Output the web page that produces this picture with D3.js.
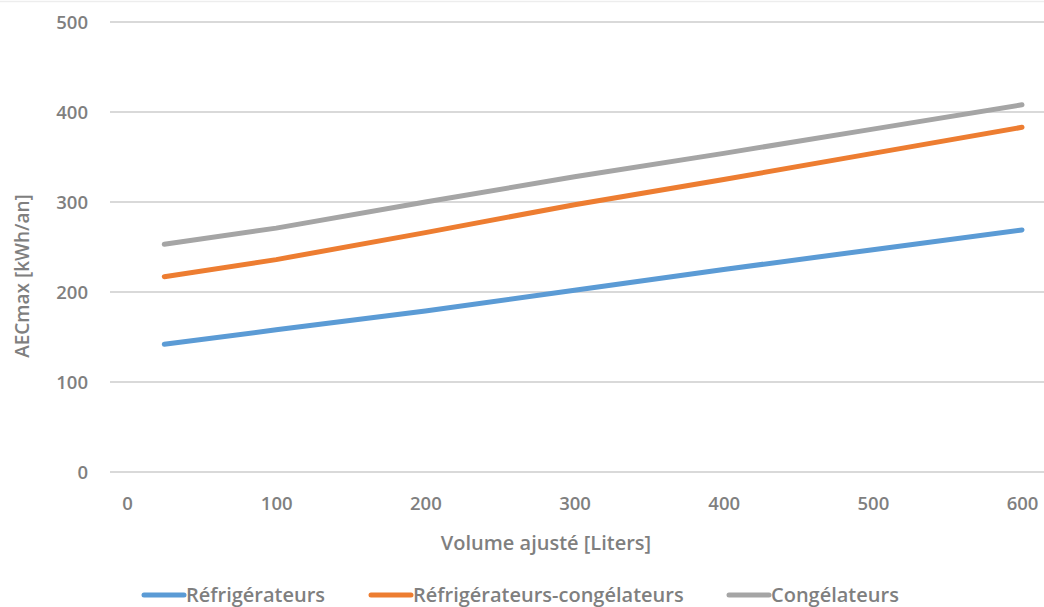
<!DOCTYPE html>
<html>
<head>
<meta charset="utf-8">
<script src="https://cdn.jsdelivr.net/npm/d3@7"></script>
<style>
  html, body { margin: 0; padding: 0; background: #fff; }
  svg { display: block; }
  text { font-family: "Open Sans", "Liberation Sans", sans-serif; fill: #7f7f7f; }
</style>
</head>
<body>
<svg id="chart" width="1044" height="607"></svg>
<script>
// Adjusted volume (litres) at which each curve is sampled
const volumes = [25, 100, 200, 300, 400, 500, 600];

// Maximum annual energy consumption (kWh/an) per appliance type
const refrigerateurs          = [142, 158, 179, 202, 225, 247, 269];
const refrigerateursCongel    = [217, 236, 266, 297, 325, 354, 383];
const congelateurs            = [253, 271, 300, 328, 354, 381, 408];

const seriesNames = ["Réfrigérateurs", "Réfrigérateurs-congélateurs", "Congélateurs"];
const seriesColors = ["#5B9BD5", "#ED7D31", "#A5A5A5"];

const xTicks = [0, 100, 200, 300, 400, 500, 600];
const yTicks = [0, 100, 200, 300, 400, 500];

const xTitle = "Volume ajusté [Liters]";
const yTitle = "AECmax [kWh/an]";

const series = [refrigerateurs, refrigerateursCongel, congelateurs].map((vals, i) => ({
  name: seriesNames[i],
  color: seriesColors[i],
  points: volumes.map((v, j) => ({ x: v, y: vals[j] }))
}));

const svg = d3.select("#chart");

const x = d3.scaleLinear().domain([0, 600]).range([127, 1022]);
const y = d3.scaleLinear().domain([0, 500]).range([472, 22]);

const gridLeft = 110, gridRight = 1044;

// faint outer border line along the top
svg.append("line")
  .attr("x1", 0).attr("x2", 1044).attr("y1", 1.5).attr("y2", 1.5)
  .attr("stroke", "#ededed").attr("stroke-width", 1.5);

// horizontal gridlines
svg.append("g").selectAll("line").data(yTicks).join("line")
  .attr("x1", gridLeft).attr("x2", gridRight)
  .attr("y1", d => y(d)).attr("y2", d => y(d))
  .attr("stroke", "#d9d9d9").attr("stroke-width", 1.8);

// y axis (labels only)
const yAxis = d3.axisLeft(y).tickValues(yTicks).tickSize(0).tickPadding(0);
const gy = svg.append("g").attr("transform", "translate(88,0)").call(yAxis);
gy.select(".domain").remove();
gy.selectAll("text")
  .attr("font-size", 18.5).attr("font-weight", 600)
  .attr("font-family", "'Open Sans', sans-serif")
  .attr("fill", "#7f7f7f").attr("dy", "0.36em");

// x axis (labels only)
const xAxis = d3.axisBottom(x).tickValues(xTicks).tickSize(0).tickPadding(0);
const gx = svg.append("g").attr("transform", "translate(0,503)").call(xAxis);
gx.select(".domain").remove();
gx.selectAll("text")
  .attr("font-size", 18.5).attr("font-weight", 600)
  .attr("font-family", "'Open Sans', sans-serif")
  .attr("fill", "#7f7f7f").attr("dy", "0.36em");

// axis titles
svg.append("text")
  .attr("x", 546).attr("y", 543).attr("dy", "0.36em")
  .attr("text-anchor", "middle")
  .attr("font-size", 20).attr("font-weight", 600)
  .text(xTitle);

svg.append("text")
  .attr("transform", "translate(22,276) rotate(-90)")
  .attr("dy", "0.36em")
  .attr("text-anchor", "middle")
  .attr("font-size", 19).attr("font-weight", 600)
  .text(yTitle);

// series lines
const line = d3.line().x(d => x(d.x)).y(d => y(d.y));
svg.append("g").selectAll("path").data(series).join("path")
  .attr("d", d => line(d.points))
  .attr("fill", "none")
  .attr("stroke", d => d.color)
  .attr("stroke-width", 5)
  .attr("stroke-linecap", "round")
  .attr("stroke-linejoin", "round");

// legend
const legendX = [142, 369, 727];
const lg = svg.append("g").selectAll("g").data(series).join("g")
  .attr("transform", (d, i) => `translate(${legendX[i]},595)`);
lg.append("line")
  .attr("x1", 2).attr("x2", 42).attr("y1", 0).attr("y2", 0)
  .attr("stroke", d => d.color).attr("stroke-width", 5)
  .attr("stroke-linecap", "round");
lg.append("text")
  .attr("x", 44).attr("dy", "0.34em")
  .attr("font-size", 20).attr("font-weight", 600)
  .text(d => d.name);
</script>
</body>
</html>
